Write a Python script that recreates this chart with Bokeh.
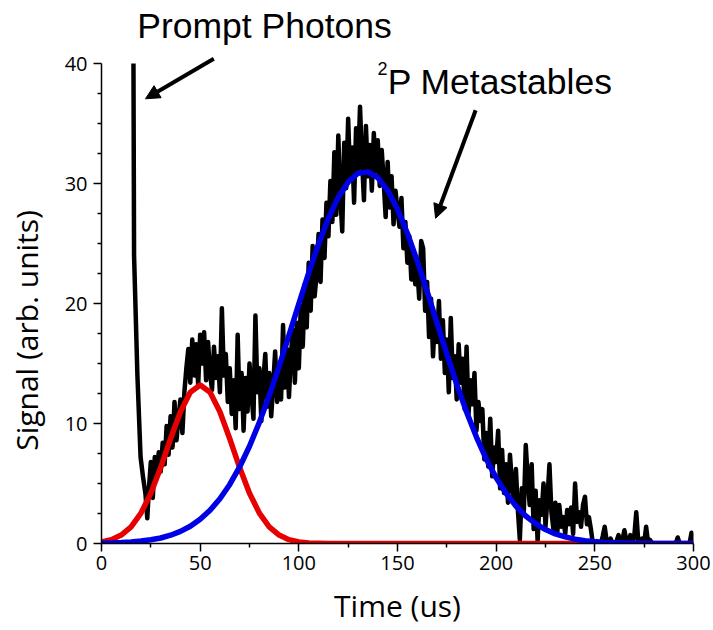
import numpy as np
from bokeh.plotting import figure
from bokeh.models import Range1d, FixedTicker, Label, Arrow, NormalHead
from bokeh.embed import file_html
from bokeh.resources import INLINE

# ---- data ----
# prompt-photon spike at the start of the trace (clipped at 40 in the figure)
spike_time = [16.2, 16.5, 18.2, 19.8, 21.0, 22.3, 23.2]
spike_signal = [40.0, 24.0, 14.0, 7.2, 5.6, 4.1, 2.1]

# measured signal, one value per microsecond from t = 24 us to t = 300 us
trace_start = 24
trace_signal = [
    4.5, 6.8, 3.8, 7.2, 5.4, 7.6, 6.0, 8.4, 6.6,
    9.8, 7.4, 10.6, 8.0, 11.8, 8.6, 10.4, 12.0, 9.2, 12.6,
    14.6, 16.2, 13.4, 17.0, 14.0, 16.6, 13.2, 17.4, 15.0, 17.6,
    13.6, 16.8, 14.2, 12.8, 16.4, 13.8, 15.6, 12.6, 19.6, 14.0,
    15.8, 11.8, 14.6, 10.8, 13.6, 9.6, 17.4, 11.2, 14.2, 9.4,
    13.8, 11.0, 15.0, 12.4, 10.4, 19.0, 12.6, 14.6, 10.2, 13.6,
    15.8, 11.4, 14.2, 10.6, 13.2, 16.0, 11.8, 14.8, 12.0, 18.2,
    13.0, 16.2, 12.2, 15.8, 17.8, 13.4, 18.4, 14.6, 19.8, 16.4,
    21.6, 18.0, 23.4, 19.4, 24.8, 20.6, 22.4, 25.8, 21.8, 27.0,
    23.8, 28.4, 25.6, 30.2, 26.8, 32.6, 27.4, 34.0, 29.0, 26.0,
    33.4, 29.6, 35.4, 30.4, 33.0, 28.4, 34.6, 31.2, 36.4, 32.0,
    28.6, 34.8, 30.6, 33.2, 29.4, 34.2, 31.0, 33.6, 29.8, 32.8,
    30.2, 27.2, 31.8, 28.0, 30.6, 26.6, 29.4, 27.8, 26.4, 28.8,
    24.6, 26.8, 23.4, 25.6, 22.0, 24.4, 21.6, 23.0, 20.4, 25.2,
    24.6, 19.4, 21.8, 17.2, 20.4, 15.6, 19.0, 16.8, 20.2, 15.4,
    18.6, 14.2, 17.0, 12.6, 18.8, 13.8, 15.6, 12.0, 16.6, 13.4,
    15.4, 11.2, 16.4, 10.8, 13.6, 11.6, 14.2, 9.4, 11.8, 10.2,
    11.2, 7.0, 9.2, 6.4, 10.4, 5.6, 8.0, 6.8, 9.4, 4.6,
    7.8, 4.2, 6.6, 3.4, 7.4, 5.0, 3.6, 6.2, 2.8, 0.3,
    4.6, 2.6, 8.2, 5.4, 3.2, 6.6, 1.2, 4.4, 0.2, 3.6,
    2.4, 5.0, 1.4, 3.8, 6.6, 2.6, 1.2, 3.4, 1.0, 3.2,
    1.4, 2.2, 0.8, 2.8, 1.6, 3.0, 0.8, 5.0, 1.8, 2.6,
    1.4, 3.2, 3.9, 1.6, 2.2, 1.2, 0.0, 0.0, 0.2, 0.0,
    0.0, 0.6, 1.4, 0.2, 0.0, 0.4, 0.0, 0.0, 0.2, 0.7,
    0.0, 0.3, 1.1, 0.2, 0.0, 0.7, 0.0, 0.6, 2.6, 0.2,
    0.0, 0.4, 0.0, 1.4, 0.0, 0.3, 0.0, 0.0, 0.0, 0.0,
    0.0, 0.0, 0.0, 0.0, 0.0, 0.0, 0.0, 0.0, 0.0, 0.5,
    0.0, 0.0, 0.0, 0.0, 0.0, 0.0, 0.9, 0.0,
]

# fitted components, one value every 5 us from 0 to 300 us
fit_step = 5
fit_red = [
    0.13, 0.32, 0.70, 1.39, 2.53, 4.19, 6.33, 8.73, 10.98, 12.61,
    13.20, 12.61, 10.98, 8.73, 6.33, 4.19, 2.53, 1.39, 0.70, 0.32,
    0.13, 0.05, 0.02, 0, 0, 0, 0, 0, 0, 0,
    0, 0, 0, 0, 0, 0, 0, 0, 0, 0,
    0, 0, 0, 0, 0, 0, 0, 0, 0, 0,
    0, 0, 0, 0, 0, 0, 0, 0, 0, 0, 0,
]
fit_blue = [
    0.03, 0.05, 0.08, 0.13, 0.20, 0.31, 0.46, 0.69, 1.01, 1.44,
    2.02, 2.77, 3.73, 4.92, 6.38, 8.10, 10.09, 12.33, 14.76, 17.34,
    19.97, 22.55, 24.96, 27.11, 28.86, 30.13, 30.85, 30.97, 30.49, 29.43,
    27.86, 25.86, 23.54, 21.01, 18.38, 15.78, 13.28, 10.96, 8.87, 7.04,
    5.47, 4.18, 3.12, 2.29, 1.65, 1.16, 0.80, 0.55, 0.36, 0.24,
    0.15, 0.09, 0.06, 0.04, 0.02, 0.01, 0, 0, 0, 0, 0,
]

x_ticks = [0, 50, 100, 150, 200, 250, 300]
x_minor = [25, 75, 125, 175, 225, 275]
y_ticks = [0, 10, 20, 30, 40]
y_minor = [2.5, 5, 7.5, 12.5, 15, 17.5, 22.5, 25, 27.5, 32.5, 35, 37.5]

# ---- figure ----
p = figure(width=713, height=630, output_backend="svg", toolbar_location=None,
           x_range=Range1d(0, 300), y_range=Range1d(0, 45.25),
           min_border_left=101, min_border_right=20, min_border_top=0,
           min_border_bottom=87)
p.outline_line_color = None
p.grid.visible = False
p.background_fill_color = "white"
p.border_fill_color = "white"

trace_time = np.arange(trace_start, trace_start + len(trace_signal))
black_x = list(spike_time) + list(trace_time)
black_y = list(spike_signal) + list(trace_signal)
fit_time = np.arange(0, fit_step * len(fit_red), fit_step)

p.line(black_x, black_y, line_color="black", line_width=4.5, line_join="round")
p.line(fit_time, fit_red, line_color="#e60000", line_width=5.5, line_join="round")
p.line(fit_time, fit_blue, line_color="#0000e6", line_width=5.5, line_join="round")

# axes
for ax in (p.xaxis[0], p.yaxis[0]):
    ax.axis_line_color = "black"
    ax.axis_line_width = 1.5
    ax.major_tick_line_width = 1.5
    ax.minor_tick_line_width = 1.5
    ax.major_tick_in = 0
    ax.major_tick_out = 8
    ax.minor_tick_in = 0
    ax.minor_tick_out = 4
    ax.major_label_text_font = "Open Sans"
    ax.major_label_text_font_size = "20px"
    ax.major_label_text_color = "black"
    ax.major_label_standoff = 6
    ax.axis_label_text_font = "Open Sans"
    ax.axis_label_text_font_size = "30px"
    ax.axis_label_text_font_style = "normal"
    ax.axis_label_text_color = "black"

p.xaxis[0].ticker = FixedTicker(ticks=x_ticks, minor_ticks=x_minor)
p.yaxis[0].ticker = FixedTicker(ticks=y_ticks, minor_ticks=y_minor)
p.xaxis[0].bounds = (0, 300)
p.yaxis[0].bounds = (0, 40)

p.xaxis[0].major_label_standoff = 4
p.xaxis[0].axis_label = "Time (us)"
p.xaxis[0].axis_label_standoff = 12

# the y title sits over the 0-40 rule, lower than the frame centre: pad its top end
p.yaxis[0].axis_label = "Signal (arb. units)" + "\u00a0" * 15
p.yaxis[0].axis_label_standoff = 15

# annotations
p.add_layout(Label(x=18.1, y=43.1, text="Prompt Photons", text_align="left",
                   text_baseline="alphabetic", text_font="Liberation Sans",
                   text_font_size="35.5px", text_color="black"))
p.add_layout(Label(x=139.9, y=39.6, text="2", text_align="left",
                   text_baseline="alphabetic", text_font="Liberation Sans",
                   text_font_size="18px", text_color="black"))
p.add_layout(Label(x=145.0, y=38.5, text="P Metastables", text_align="left",
                   text_baseline="alphabetic", text_font="Liberation Sans",
                   text_font_size="35.5px", text_color="black"))

p.add_layout(Arrow(x_start=56.9, y_start=40.4, x_end=22.3, y_end=37.06,
                   line_width=4, line_color="black",
                   end=NormalHead(size=14, fill_color="black", line_color="black")))
p.add_layout(Arrow(x_start=189.6, y_start=36.1, x_end=169.3, y_end=27.1,
                   line_width=4, line_color="black",
                   end=NormalHead(size=14, fill_color="black", line_color="black")))

open("out.html", "w").write(file_html(p, INLINE))
